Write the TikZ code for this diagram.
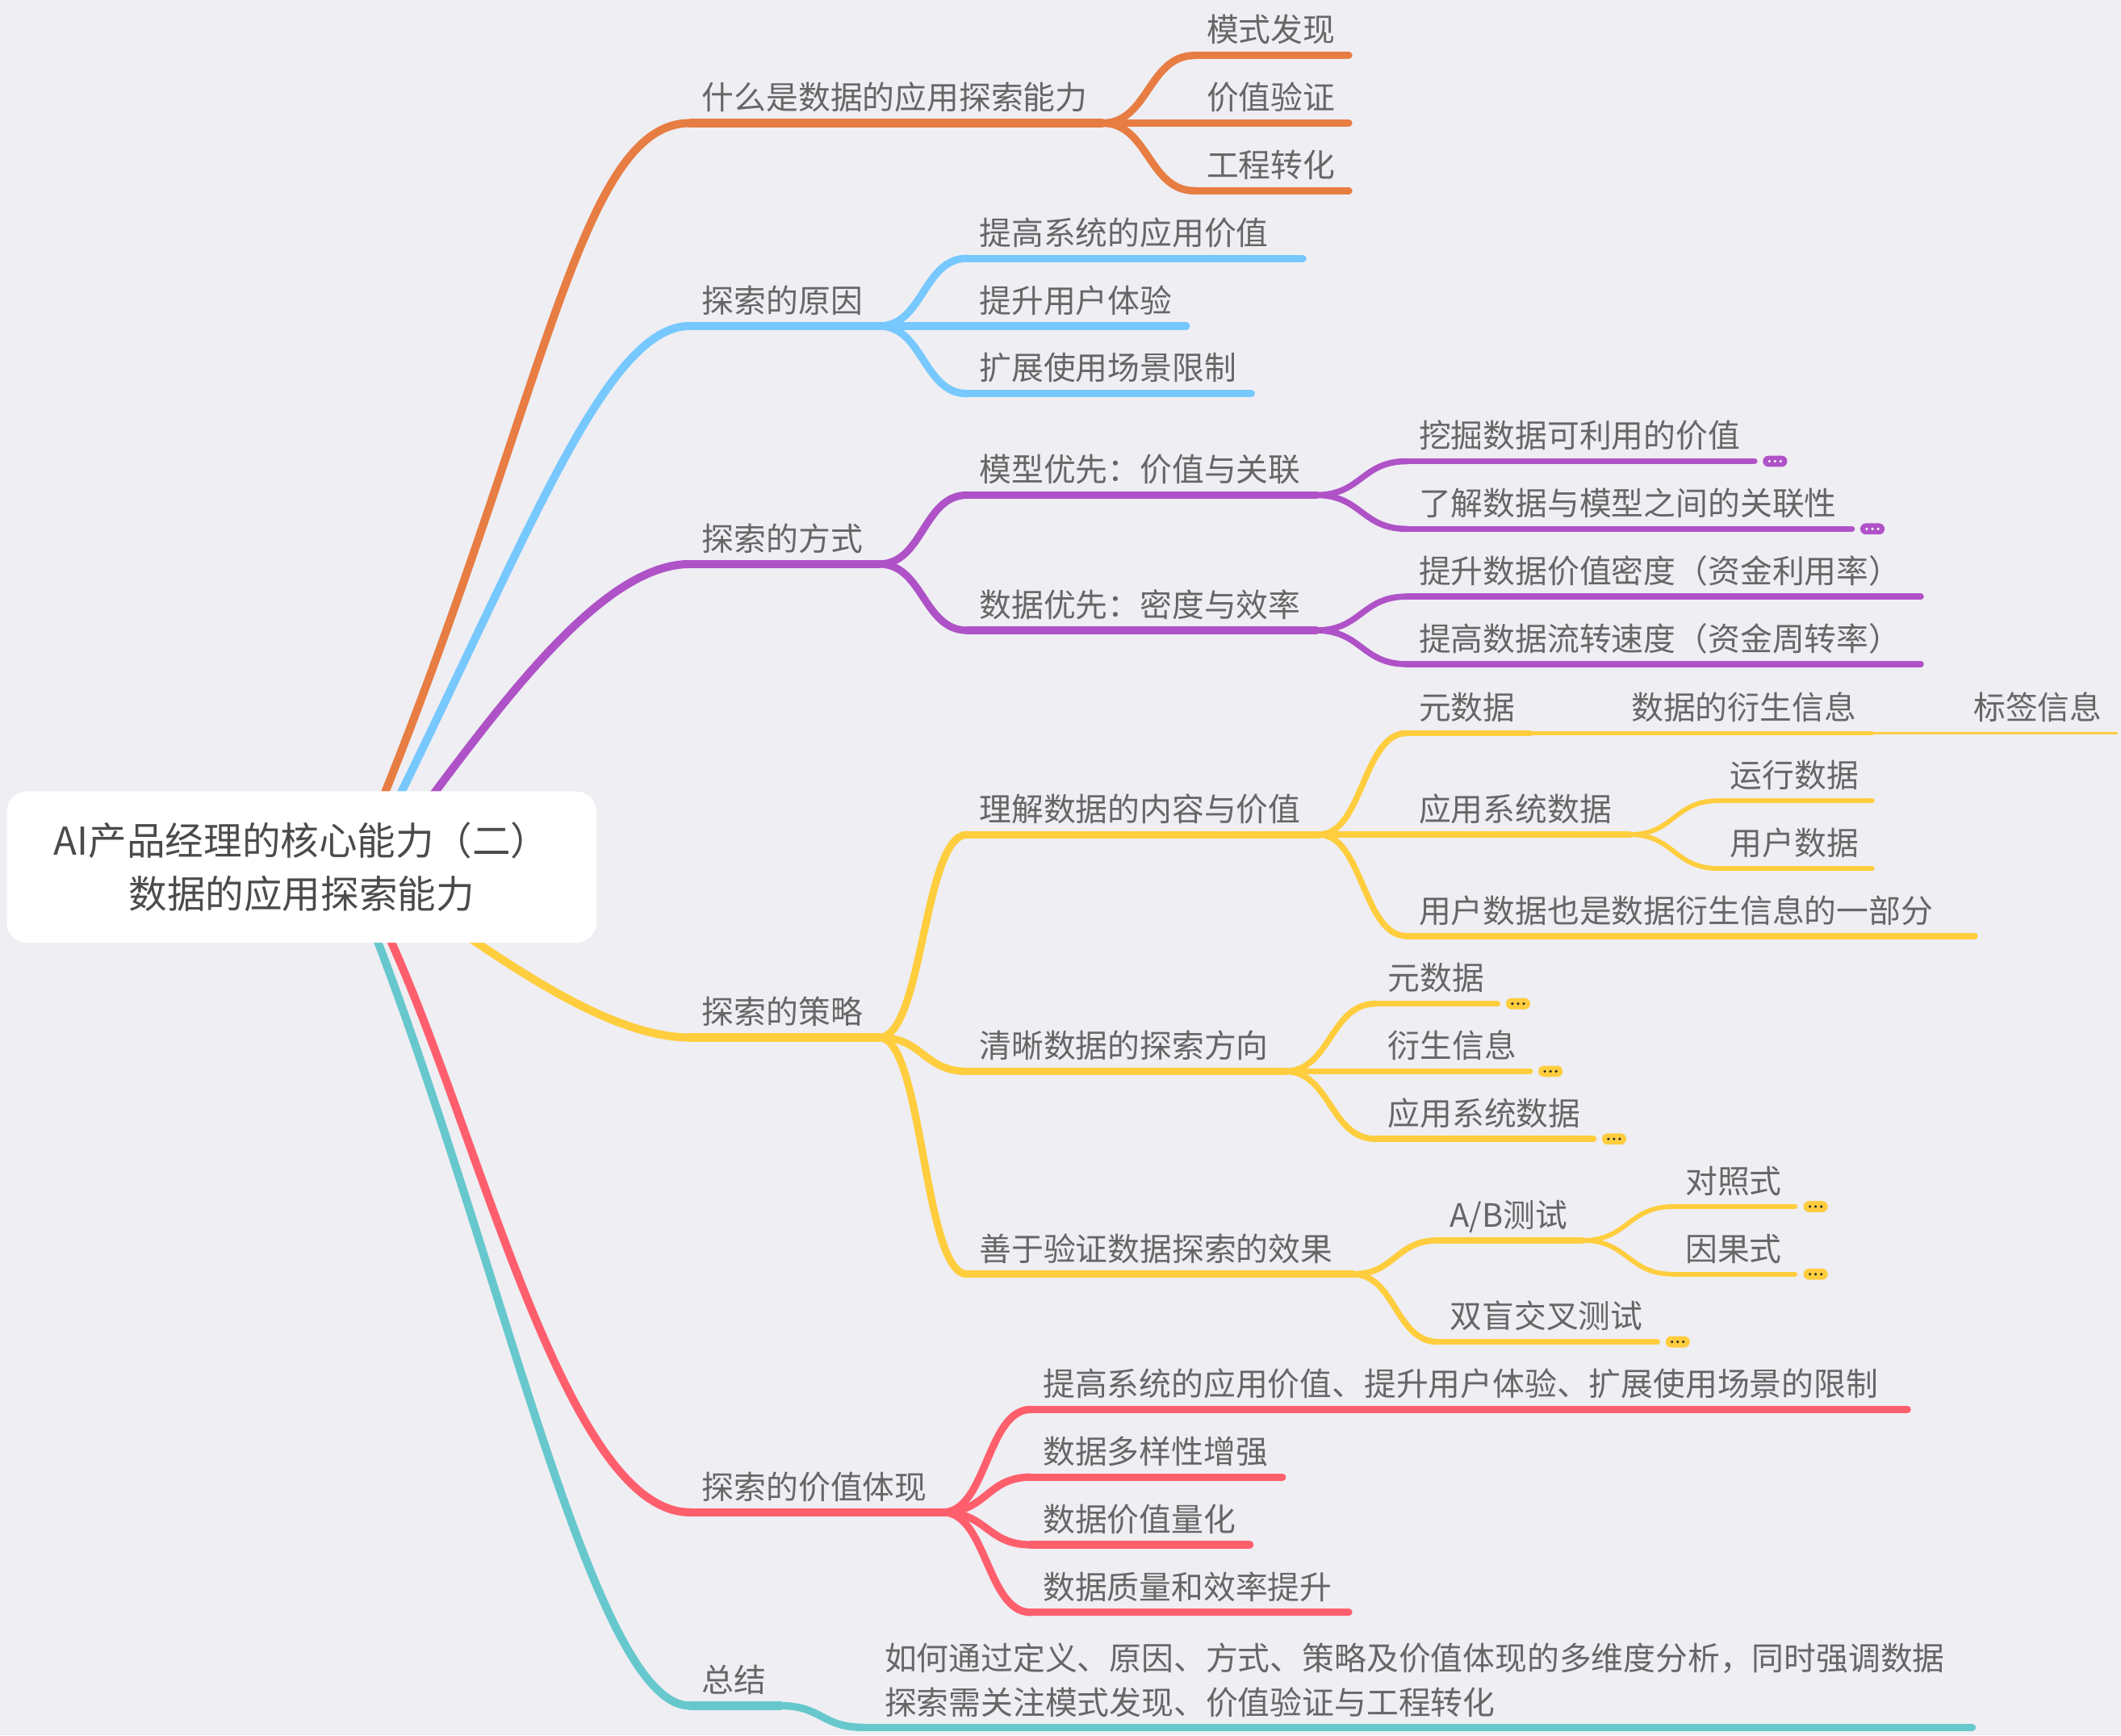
\documentclass[tikz,border=0pt]{standalone}
\usepackage{fontspec}
\setmainfont{Noto Sans CJK SC}
\usetikzlibrary{calc}
\definecolor{bgc}{HTML}{EEEEF3}
\definecolor{cor}{HTML}{E77D42}
\definecolor{cbl}{HTML}{76C8FE}
\definecolor{cpu}{HTML}{AF52C7}
\definecolor{cye}{HTML}{FFCD3D}
\definecolor{cre}{HTML}{FF5F6C}
\definecolor{cte}{HTML}{66C8CC}
\definecolor{txtc}{HTML}{666666}
\definecolor{roottxt}{HTML}{4B4B4B}
\definecolor{dotdark}{HTML}{2A2A2A}
\pgfdeclarelayer{bglayer}
\pgfdeclarelayer{links}
\pgfsetlayers{bglayer,links,main}
\tikzset{
  lbl/.style={inner sep=0pt, outer sep=0pt, text=txtc, font=\fontsize{19pt}{23pt}\selectfont, anchor=base west},
  rootbox/.style={fill=white, rounded corners=12pt, minimum width=348.8pt, minimum height=89.6pt, inner sep=0pt, align=center, text=roottxt, font=\fontsize{22.7pt}{31.6pt}\selectfont},
  pillbox/.style={minimum width=14.4pt, minimum height=6.6pt, inner sep=0pt, rounded corners=3.3pt, anchor=west},
  wA/.style={line width=4.8pt}, wB/.style={line width=4.4pt}, wC/.style={line width=3.6pt},
  wD/.style={line width=2.8pt}, wE/.style={line width=2.1pt}, wF/.style={line width=1.3pt},
  ln/.style={line cap=round},
}
\newcommand\tp[7]{%
  \coordinate (#1-s) at (#2,#3);
  \coordinate (#1-e) at (#4,#3);
  \node[lbl] (#1) at (#2+9,#3-10) {#7};
  \draw[ln,#5,#6] (#1-s) -- (#1-e);
}
\newcommand\cn[4]{%
  \path ($(#1-e)!0.5!(#2-s)$) coordinate (mid);
  \draw[ln,#3,#4] (#1-e) .. controls (mid |- #1-e) and (mid |- #2-s) .. (#2-s);
}
\newcommand\pill[4]{%
  \node[pillbox, fill=#3] (#1) at ($(#2)+(6,0)$) {};
  \foreach \pd in {-4.2,0,4.2} \fill[#4] ($(#1.center)+(\pd,0)$) circle (0.85pt);
}
\begin{document}
\begin{tikzpicture}[x=0.8pt,y=-0.8pt]
\useasboundingbox (0,0) rectangle (1568,1283);
\begin{pgfonlayer}{bglayer}
\fill[bgc] (0,0) rectangle (1568,1283);
\end{pgfonlayer}

% root
\node[rootbox] (root) at (223,641) {AI产品经理的核心能力（二）\\数据的应用探索能力};

% level 1
\tp{A}{510}{91}{815}{cor}{wA}{什么是数据的应用探索能力}
\tp{B}{510}{241}{650}{cbl}{wA}{探索的原因}
\tp{C}{510}{417}{650}{cpu}{wA}{探索的方式}
\tp{D}{510}{767}{650}{cye}{wA}{探索的策略}
\tp{E}{510}{1118}{697}{cre}{wA}{探索的价值体现}
\tp{F}{510}{1261}{577}{cte}{wA}{总结}

% orange
\tp{A1}{883}{41}{997}{cor}{wB}{模式发现}
\tp{A2}{883}{91}{997}{cor}{wB}{价值验证}
\tp{A3}{883}{141}{997}{cor}{wB}{工程转化}
% blue
\tp{B1}{715}{191}{963}{cbl}{wB}{提高系统的应用价值}
\tp{B2}{715}{241}{877}{cbl}{wB}{提升用户体验}
\tp{B3}{715}{291}{925}{cbl}{wB}{扩展使用场景限制}
% purple
\tp{C1}{715}{366}{973}{cpu}{wB}{模型优先：价值与关联}
\tp{C2}{715}{466}{973}{cpu}{wB}{数据优先：密度与效率}
\tp{C11}{1040}{341}{1297}{cpu}{wC}{挖掘数据可利用的价值}
\tp{C12}{1040}{391}{1369}{cpu}{wC}{了解数据与模型之间的关联性}
\tp{C21}{1040}{441}{1420}{cpu}{wC}{提升数据价值密度（资金利用率）}
\tp{C22}{1040}{491}{1420}{cpu}{wC}{提高数据流转速度（资金周转率）}
% yellow
\tp{D1}{715}{617}{975}{cye}{wB}{理解数据的内容与价值}
\tp{D2}{715}{792}{950}{cye}{wB}{清晰数据的探索方向}
\tp{D3}{715}{942}{1000}{cye}{wB}{善于验证数据探索的效果}
\tp{D11}{1040}{542}{1131}{cye}{wC}{元数据}
\tp{D111}{1197}{542}{1384}{cye}{wE}{数据的衍生信息}
\tp{D1111}{1450}{542}{1565}{cye}{wF}{标签信息}
\tp{D12}{1040}{617}{1205}{cye}{wC}{应用系统数据}
\tp{D121}{1270}{592}{1384}{cye}{wD}{运行数据}
\tp{D122}{1270}{642}{1384}{cye}{wD}{用户数据}
\tp{D13}{1040}{692}{1460}{cye}{wC}{用户数据也是数据衍生信息的一部分}
\tp{D21}{1017}{742}{1107}{cye}{wC}{元数据}
\tp{D22}{1017}{792}{1131}{cye}{wC}{衍生信息}
\tp{D23}{1017}{842}{1178}{cye}{wC}{应用系统数据}
\tp{D31}{1063}{917}{1170}{cye}{wC}{A/B测试}
\tp{D32}{1063}{992}{1225}{cye}{wC}{双盲交叉测试}
\tp{D311}{1237}{892}{1327}{cye}{wD}{对照式}
\tp{D312}{1237}{942}{1327}{cye}{wD}{因果式}
% red
\tp{E1}{762}{1042}{1410}{cre}{wB}{提高系统的应用价值、提升用户体验、扩展使用场景的限制}
\tp{E2}{762}{1092}{948}{cre}{wB}{数据多样性增强}
\tp{E3}{762}{1142}{924}{cre}{wB}{数据价值量化}
\tp{E4}{762}{1192}{997}{cre}{wB}{数据质量和效率提升}
% teal
\coordinate (F1-s) at (638,1277);
\coordinate (F1-e) at (1458,1277);
\node[lbl] (F1) at (654,1234.5) {如何通过定义、原因、方式、策略及价值体现的多维度分析，同时强调数据};
\node[lbl] (F1b) at (654,1267.5) {探索需关注模式发现、价值验证与工程转化};
\draw[ln,cte,wB] (F1-s) -- (F1-e);

% connectors
\cn{A}{A1}{cor}{wB} \cn{A}{A2}{cor}{wB} \cn{A}{A3}{cor}{wB}
\cn{B}{B1}{cbl}{wB} \cn{B}{B2}{cbl}{wB} \cn{B}{B3}{cbl}{wB}
\cn{C}{C1}{cpu}{wB} \cn{C}{C2}{cpu}{wB}
\cn{C1}{C11}{cpu}{wC} \cn{C1}{C12}{cpu}{wC}
\cn{C2}{C21}{cpu}{wC} \cn{C2}{C22}{cpu}{wC}
\cn{D}{D1}{cye}{wB} \cn{D}{D2}{cye}{wB} \cn{D}{D3}{cye}{wB}
\cn{D1}{D11}{cye}{wC} \cn{D1}{D12}{cye}{wC} \cn{D1}{D13}{cye}{wC}
\cn{D11}{D111}{cye}{wE} \cn{D111}{D1111}{cye}{wF}
\cn{D12}{D121}{cye}{wD} \cn{D12}{D122}{cye}{wD}
\cn{D2}{D21}{cye}{wC} \cn{D2}{D22}{cye}{wC} \cn{D2}{D23}{cye}{wC}
\cn{D3}{D31}{cye}{wC} \cn{D3}{D32}{cye}{wC}
\cn{D31}{D311}{cye}{wD} \cn{D31}{D312}{cye}{wD}
\cn{E}{E1}{cre}{wB} \cn{E}{E2}{cre}{wB} \cn{E}{E3}{cre}{wB} \cn{E}{E4}{cre}{wB}
\cn{F}{F1}{cte}{wB}

% collapsed markers
\pill{C11p}{C11-e}{cpu}{white}
\pill{C12p}{C12-e}{cpu}{white}
\pill{D21p}{D21-e}{cye}{dotdark}
\pill{D22p}{D22-e}{cye}{dotdark}
\pill{D23p}{D23-e}{cye}{dotdark}
\pill{D311p}{D311-e}{cye}{dotdark}
\pill{D312p}{D312-e}{cye}{dotdark}
\pill{D32p}{D32-e}{cye}{dotdark}

% root branches
\begin{pgfonlayer}{links}
\draw[ln,cor,wA] (root.center) -- (277,605) -- (285,585) .. controls (405,285) and (430,91) .. (A-s);
\draw[ln,cbl,wA] (root.center) -- (287,605) -- (297,585) .. controls (395,385) and (450,241) .. (B-s);
\draw[ln,cpu,wA] (root.center) -- (307,605) -- (322,585) .. controls (382,505) and (450,417) .. (C-s);
\draw[ln,cye,wA] (root.center) -- (329,681) -- (354,698) .. controls (399,728) and (460,767) .. (D-s);
\draw[ln,cre,wA] (root.center) -- (281,678) -- (290,698) .. controls (357,848) and (420,1118) .. (E-s);
\draw[ln,cte,wA] (root.center) -- (272,678) -- (280,698) .. controls (375,948) and (440,1261) .. (F-s);
\end{pgfonlayer}
\end{tikzpicture}
\end{document}
